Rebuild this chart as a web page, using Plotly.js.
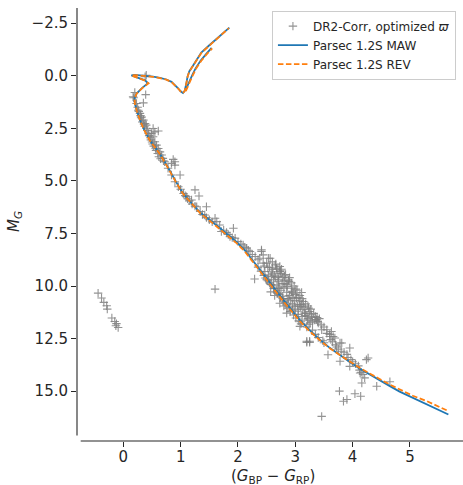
<!DOCTYPE html>
<html>
<head>
<meta charset="utf-8">
<script src="https://cdn.plot.ly/plotly-3.0.1.min.js"></script>
<style>
  html, body { margin: 0; padding: 0; background: #fff; }
  #cmd { width: 463px; height: 485px; }
</style>
</head>
<body>
<div id="cmd"></div>
<script>
// Gaia DR2 colour-magnitude diagram with two PARSEC 1.2S isochrones.

// Stars: (G_BP - G_RP) colour and absolute G magnitude
const starColour = [
  0.40, 0.38, 0.20, 0.17, 0.18, 0.39, 0.35, 0.23, 0.26, 0.29, 0.32, 0.35, 0.38, 0.40, 0.52, 0.55, 0.61, 0.49, 0.52, 0.55,
  0.58, 0.61, 0.64, 0.67, 0.69, 0.87, 0.90, 0.84,
  0.25, 0.27, 0.30, 0.31, 0.33, 0.36, 0.37, 0.40, 0.42, 0.44, 0.45, 0.47, 0.48, 0.50, 0.51, 0.53, 0.56, 0.57, 0.60, 0.62,
  0.65, 0.70, 0.72, 0.78, 0.84, 0.90, 0.96, 0.99, 0.90, 1.25, 1.32, 1.19, 1.10, 1.45, 1.28, 1.34, 1.42, 1.60, 1.63, 1.68,
  1.92, 1.71, 1.86, 1.95, 2.00, 2.09, 2.15, 2.21, 2.41, 2.38, 2.44, 2.53,
  1.00, 1.05, 1.08, 1.12, 1.15, 1.20, 1.25, 1.38, 1.45, 1.50, 1.55, 1.75, 1.80, 1.83, 1.90, 2.05, 2.12, 2.18, 2.25, 2.30, 2.35,
  1.60, 3.46,
  -0.44, -0.38, -0.34, -0.29, -0.28, -0.20, -0.15, -0.12, -0.09, -0.13,
  2.41, 2.44, 2.56, 2.50, 2.29, 2.73, 2.73, 2.70, 2.61, 2.53, 2.47, 2.88, 2.85, 2.94, 2.96, 3.11, 3.02, 3.14, 3.11, 3.23,
  3.25, 3.28, 3.37, 3.40, 2.85, 3.08, 3.20, 3.25, 3.46, 3.55, 3.60, 3.69, 3.78, 3.95,
  2.55, 2.60, 2.65, 2.68, 2.75, 2.78, 2.80, 2.82, 2.70, 2.65, 2.58, 2.62, 2.68, 2.72, 2.75, 2.80, 2.85, 2.90, 2.88, 2.92,
  2.95, 2.98, 3.00, 3.05, 3.00, 3.05, 3.08, 3.15, 3.18, 3.20, 3.22, 3.30, 3.12, 3.05, 2.95, 2.90, 2.82, 2.78, 2.72, 2.68,
  2.62, 2.55, 2.50, 2.45, 2.40, 2.35, 2.60, 2.66, 2.76, 2.83, 2.90, 2.93, 2.98, 3.03, 3.08, 3.12, 3.18, 3.22, 3.27, 3.32,
  3.35, 3.38, 3.42, 3.45, 3.50, 3.55, 3.60, 3.62, 3.65, 3.70, 3.72, 3.75, 3.80, 3.85, 3.90, 3.92, 3.97, 4.00, 4.05, 4.10,
  4.12, 4.15,
  3.20, 3.25, 3.57, 3.78, 3.95, 4.13, 4.18, 4.24, 4.27, 4.16, 4.21, 4.65, 3.77, 3.84, 3.90, 4.04, 4.14, 4.42, 3.63, 3.66, 3.81,
  3.10, 3.20, 3.30, 3.35, 3.40, 3.48, 3.50,
  2.48, 2.52, 2.57, 2.63, 2.69, 2.74, 2.79, 2.84, 2.87, 2.91, 2.97, 3.01, 3.06, 3.10, 3.16, 3.21, 3.26, 3.29, 3.34, 3.39,
  2.58, 2.64, 2.71, 2.77, 2.86, 2.94, 2.99, 3.07, 3.13, 3.24, 2.67, 2.74, 2.81, 2.89, 2.96, 3.04, 2.52, 2.59, 2.71, 2.78,
  2.86, 2.93, 3.01, 3.09, 3.17, 2.46, 2.57, 2.64, 2.73, 2.80
];
const starMagG = [
  -0.02, 0.05, 0.80, 1.00, 1.05, 0.90, 1.29, 1.32, 1.64, 1.79, 1.96, 2.11, 2.27, 2.35, 2.51, 2.67, 2.63, 2.74, 2.90, 3.14,
  3.30, 3.46, 3.62, 3.77, 3.93, 3.98, 4.09, 4.17,
  1.50, 1.70, 1.90, 2.00, 2.20, 2.30, 2.40, 2.50, 2.60, 2.75, 2.85, 2.95, 3.05, 3.15, 3.25, 3.35, 3.45, 3.55, 3.70, 3.85,
  3.95, 4.05, 4.09, 4.40, 4.72, 5.04, 5.28, 4.72, 4.25, 5.43, 5.72, 5.91, 5.75, 6.23, 6.23, 6.46, 6.62, 6.78, 6.94, 7.10,
  7.25, 7.41, 7.65, 7.73, 7.89, 8.05, 8.20, 8.36, 8.28, 8.68, 8.91, 8.68,
  5.40, 5.60, 5.70, 5.85, 5.95, 6.10, 6.20, 6.60, 6.75, 6.85, 6.95, 7.35, 7.45, 7.55, 7.70, 8.00, 8.15, 8.30, 8.50, 8.60, 8.75,
  10.15, 16.20,
  10.34, 10.57, 10.78, 10.94, 11.10, 11.52, 11.69, 11.79, 11.97, 11.89,
  8.36, 8.52, 8.68, 8.91, 9.67, 9.07, 9.31, 9.55, 9.39, 9.47, 9.31, 9.71, 9.94, 10.10, 10.34, 10.31, 10.58, 10.74, 10.89, 11.05,
  11.21, 11.37, 11.60, 11.76, 11.29, 11.92, 12.63, 12.63, 12.08, 12.08, 12.40, 12.47, 12.71, 12.95,
  9.10, 9.20, 9.00, 9.20, 9.40, 9.60, 9.75, 9.90, 9.80, 9.60, 9.55, 9.70, 9.95, 10.05, 10.20, 10.10, 10.30, 10.45, 10.60, 10.70,
  10.85, 10.95, 11.10, 11.20, 10.40, 10.55, 10.70, 11.00, 11.30, 11.45, 11.55, 11.70, 11.45, 11.35, 11.15, 11.00, 10.80, 10.60, 10.40, 10.30,
  10.10, 9.85, 9.70, 9.50, 9.30, 9.10, 8.85, 8.95, 9.20, 9.45, 9.60, 9.85, 10.00, 10.20, 10.45, 10.60, 10.85, 10.95, 11.10, 11.30,
  11.45, 11.50, 11.55, 11.85, 11.95, 12.25, 12.30, 12.55, 12.65, 12.80, 12.90, 13.00, 13.10, 13.15, 13.25, 13.40, 13.50, 13.60, 13.70, 13.80,
  14.00, 14.10,
  12.68, 12.68, 13.27, 13.58, 13.82, 14.14, 14.21, 13.50, 13.42, 14.61, 14.37, 14.55, 15.00, 15.48, 15.40, 15.12, 15.24, 14.77, 12.16, 12.40, 12.71,
  11.70, 11.95, 12.10, 12.30, 12.45, 12.60, 12.70,
  9.62, 9.75, 9.92, 10.12, 10.35, 10.52, 10.72, 10.90, 11.05, 11.22, 11.38, 11.52, 11.66, 11.80, 11.28, 11.62, 11.75, 11.50, 11.62, 11.68,
  9.32, 9.48, 9.70, 9.88, 10.02, 10.25, 10.70, 10.88, 11.12, 11.82, 9.15, 9.28, 9.52, 9.78, 10.55, 10.95, 9.12, 9.95, 10.12, 10.48,
  10.62, 10.30, 10.15, 10.98, 11.40, 9.05, 10.28, 10.45, 10.82, 10.95
];

// Isochrone "Parsec 1.2S MAW" (null separates the second giant branch)
const mawColour = [
  5.67, 5.48, 5.29, 5.05, 4.82, 4.65, 4.47, 4.30, 4.12, 3.95, 3.78, 3.60, 3.43, 3.25, 3.08, 2.93, 2.79, 2.68, 2.56, 2.44,
  2.32, 2.24, 2.12, 1.98, 1.80, 1.63, 1.50, 1.34, 1.20, 1.04, 0.92, 0.81, 0.72, 0.64, 0.55, 0.46, 0.37, 0.29, 0.24, 0.20,
  0.20, 0.23, 0.33, 0.43, 0.38, 0.25, 0.14, 0.20, 0.30, 0.40, 0.52, 0.64, 0.75, 0.84, 0.91, 0.96, 1.00, 1.04, 1.07, 1.09,
  1.10, 1.12, 1.15, 1.22, 1.36, 1.50, 1.63, 1.75, 1.85,
  null,
  1.08, 1.12, 1.16, 1.20, 1.26, 1.35, 1.45, 1.54
];
const mawMagG = [
  16.11, 15.86, 15.62, 15.33, 15.02, 14.76, 14.48, 14.21, 13.92, 13.61, 13.28, 12.94, 12.55, 12.10, 11.62, 11.14, 10.66, 10.28, 9.86, 9.42,
  9.00, 8.70, 8.30, 7.92, 7.50, 7.12, 6.85, 6.50, 6.10, 5.59, 5.05, 4.49, 4.08, 3.72, 3.40, 3.06, 2.60, 2.11, 1.70, 1.32,
  1.05, 0.85, 0.58, 0.36, 0.22, 0.10, -0.02, -0.04, -0.02, 0.02, 0.04, 0.10, 0.18, 0.29, 0.45, 0.61, 0.74, 0.82, 0.72, 0.55,
  0.35, 0.05, -0.20, -0.50, -1.10, -1.45, -1.75, -2.05, -2.29,
  null,
  0.72, 0.45, 0.20, -0.02, -0.35, -0.72, -1.05, -1.32
];

// Isochrone "Parsec 1.2S REV"
const revColour = [
  5.64, 5.48, 5.29, 5.05, 4.82, 4.65, 4.47, 4.30, 4.12, 3.95, 3.78, 3.60, 3.43, 3.25, 3.08, 2.93, 2.79, 2.68, 2.56, 2.44,
  2.32, 2.24, 2.12, 1.98, 1.80, 1.63, 1.50, 1.34, 1.20, 1.04, 0.92, 0.81, 0.72, 0.64, 0.55, 0.46, 0.37, 0.29, 0.24, 0.20,
  0.20, 0.23, 0.33, 0.44, 0.38, 0.25, 0.14, 0.20, 0.30, 0.40, 0.52, 0.64, 0.75, 0.84, 0.91, 0.96, 1.00, 1.04, 1.07, 1.09,
  1.10, 1.12, 1.15, 1.22, 1.36, 1.50, 1.63, 1.75, 1.84,
  null,
  1.09, 1.13, 1.17, 1.21, 1.27, 1.36, 1.46, 1.55
];
const revMagG = [
  15.91, 15.70, 15.47, 15.22, 14.93, 14.69, 14.42, 14.17, 13.89, 13.59, 13.28, 12.96, 12.58, 12.15, 11.67, 11.20, 10.72, 10.34, 9.92, 9.48,
  9.06, 8.76, 8.36, 7.97, 7.55, 7.16, 6.88, 6.53, 6.12, 5.61, 5.07, 4.51, 4.10, 3.73, 3.41, 3.07, 2.61, 2.12, 1.71, 1.33,
  1.06, 0.86, 0.59, 0.36, 0.23, 0.11, -0.01, -0.03, -0.01, 0.03, 0.05, 0.11, 0.19, 0.30, 0.46, 0.62, 0.75, 0.83, 0.73, 0.56,
  0.36, 0.06, -0.19, -0.49, -1.08, -1.43, -1.73, -2.03, -2.26,
  null,
  0.73, 0.46, 0.21, -0.01, -0.34, -0.71, -1.04, -1.30
];

const yTicks = [-2.5, 0, 2.5, 5, 7.5, 10, 12.5, 15];
const xTicks = [0, 1, 2, 3, 4, 5];

const font = 'DejaVu Sans, sans-serif';
const ink = '#262626';
const starGrey = 'rgba(128,128,128,0.85)';

const traces = [
  {
    type: 'scatter', mode: 'markers',
    x: starColour, y: starMagG,
    name: 'DR2-Corr, optimized <i>ϖ</i>',
    marker: { symbol: 'cross-thin', size: 6, color: starGrey,
              line: { width: 1.1, color: starGrey } }
  },
  {
    type: 'scatter', mode: 'lines',
    x: mawColour, y: mawMagG, connectgaps: false,
    name: 'Parsec 1.2S MAW',
    line: { color: '#1f77b4', width: 1.8 }
  },
  {
    type: 'scatter', mode: 'lines',
    x: revColour, y: revMagG, connectgaps: false,
    name: 'Parsec 1.2S REV',
    line: { color: '#ff7f0e', width: 1.8, dash: '5.5px,2.5px' }
  }
];

const layout = {
  width: 463, height: 485,
  margin: { l: 77, r: 0, t: 8, b: 44 },
  paper_bgcolor: '#fff', plot_bgcolor: '#fff',
  font: { family: font, color: ink, size: 15 },
  showlegend: true,
  legend: {
    x: 0.505, y: 0.994, xanchor: 'left', yanchor: 'top',
    bgcolor: 'rgba(255,255,255,0.85)', bordercolor: '#cccccc', borderwidth: 1,
    font: { family: font, size: 12, color: ink },
    tracegroupgap: 0
  },
  xaxis: {
    range: [-0.808, 5.925],
    tickvals: xTicks, ticktext: xTicks.map(String),
    ticks: 'outside', ticklen: 5, tickwidth: 1, tickcolor: ink,
    ticklabelstandoff: -3,
    showgrid: false, zeroline: false, showline: false,
    tickfont: { family: font, size: 15, color: ink }
  },
  yaxis: {
    range: [17.37, -3.22],
    tickvals: yTicks, ticktext: yTicks.map(v => (v < 0 ? '\u2212' : '') + Math.abs(v).toFixed(1)),
    ticks: 'outside', ticklen: 5, tickwidth: 1, tickcolor: ink,
    showgrid: false, zeroline: false, showline: false,
    tickfont: { family: font, size: 15, color: ink }
  },
  shapes: [
    // detached spines
    { type: 'line', xref: 'paper', yref: 'paper', x0: 0, x1: 0, y0: 0.0127, y1: 1,
      line: { color: ink, width: 1.1 } },
    { type: 'line', xref: 'paper', yref: 'paper', x0: 0.0096, x1: 1, y0: 0, y1: 0,
      line: { color: ink, width: 1.1 } }
  ],
  annotations: [
    { xref: 'paper', yref: 'paper', x: 0.508, y: 0, yanchor: 'middle', xanchor: 'center',
      yshift: -35, showarrow: false,
      text: '(<i>G</i><sub>BP</sub> \u2212 <i>G</i><sub>RP</sub>)',
      font: { family: font, size: 15, color: ink } },
    { xref: 'paper', yref: 'paper', x: -0.1606, y: 0.506, xanchor: 'center', yanchor: 'middle',
      textangle: -90, showarrow: false,
      text: '<i>M</i><sub><i>G</i></sub>',
      font: { family: font, size: 15, color: ink } }
  ]
};

Plotly.newPlot('cmd', traces, layout, { displayModeBar: false, staticPlot: true });
</script>
</body>
</html>
